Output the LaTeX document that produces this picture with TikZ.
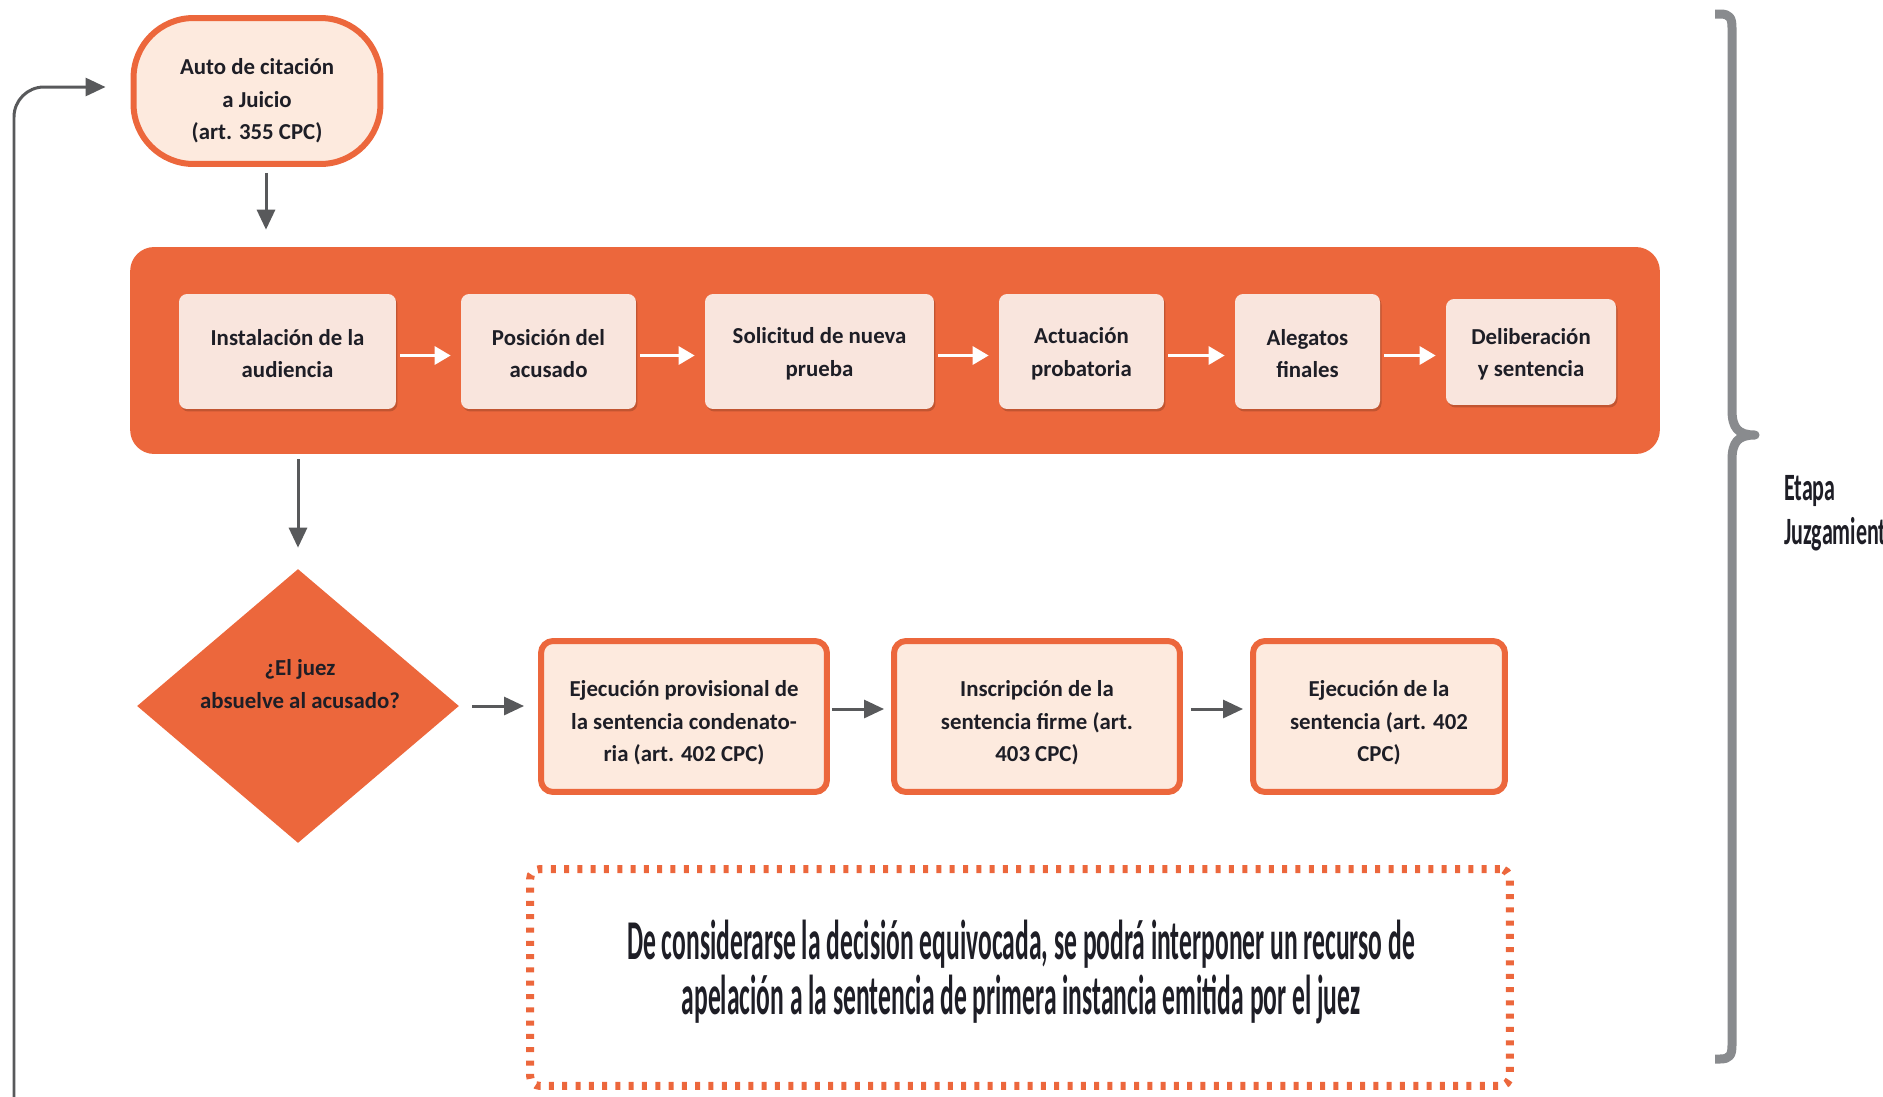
\documentclass[tikz,border=0pt]{standalone}
\usepackage{fontspec}
\setmainfont{Carlito}
\newfontfamily\condfont[FakeStretch=0.455]{Carlito}
\newfontfamily\labelfont[FakeStretch=0.57]{Carlito}
\usetikzlibrary{arrows.meta,shapes.geometric,shadows,calc}
\newcommand\liftline[1]{\rule{0pt}{#1}}
\definecolor{orng}{RGB}{236,103,60}
\definecolor{innerfill}{RGB}{249,229,221}
\definecolor{boxfill}{RGB}{253,234,222}
\definecolor{linegray}{RGB}{88,89,91}
\definecolor{bracegray}{RGB}{137,139,142}
\definecolor{txt}{RGB}{30,30,38}
\tikzset{
  lbl/.style={font=\bfseries\fontsize{13}{18.5}\selectfont, align=center, text=txt},
  autobox/.style={lbl, draw=orng, line width=0.12cm, fill=boxfill, rounded corners=1.2cm,
     minimum width=4.94cm, minimum height=2.92cm, inner sep=0pt},
  banner/.style={fill=orng, rounded corners=0.48cm, minimum width=30.6cm, minimum height=4.14cm, inner sep=0pt},
  stepbox/.style={lbl, fill=innerfill, rounded corners=0.16cm, minimum height=2.3cm, inner sep=0pt,
     drop shadow={opacity=0.35, shadow xshift=0.03cm, shadow yshift=-0.05cm, fill=black!50!orng}},
  outbox/.style={lbl, draw=orng, line width=0.12cm, fill=boxfill, rounded corners=0.24cm,
     minimum height=3.02cm, inner sep=0pt},
  decision/.style={diamond, fill=orng, minimum width=6.44cm, minimum height=5.48cm, inner sep=0pt},
  grayarrow/.style={draw=linegray, line width=0.06cm, -{Triangle[length=0.4cm,width=0.36cm]}},
  whitearrow/.style={draw=white, line width=0.06cm, -{Triangle[length=0.32cm,width=0.36cm]}},
  notebox/.style={draw=orng, line width=0.16cm, dash pattern=on 0.1cm off 0.166cm,
     rounded corners=0.2cm, minimum width=19.6cm, minimum height=4.34cm, inner sep=0pt},
}
\begin{document}
\begin{tikzpicture}[x=0.02cm, y=-0.02cm]
\useasboundingbox (0,0) rectangle (1883,1096);
\begin{scope}
\clip (0,0) rectangle (1883,1096);

% top terminal
\node[autobox] (auto) at (257,91) {\liftline{20.3pt}Auto de citación\\a Juicio\\(art. 355 CPC)};

% banner with steps
\node[banner] (banner) at (895,350.5) {};
\node[stepbox, minimum width=4.34cm] (b1) at (287.5,351.5) {\liftline{11.6pt}Instalación de la\\audiencia};
\node[stepbox, minimum width=3.5cm]  (b2) at (548.5,351.5) {\liftline{11.6pt}Posición del\\acusado};
\node[stepbox, minimum width=4.58cm] (b3) at (819.5,351.5) {\liftline{11.6pt}Solicitud de nueva\\prueba};
\node[stepbox, minimum width=3.3cm]  (b4) at (1081.5,351.5) {\liftline{11.6pt}Actuación\\probatoria};
\node[stepbox, minimum width=2.9cm]  (b5) at (1307.5,351.5) {\liftline{11.6pt}Alegatos\\finales};
\node[stepbox, minimum width=3.4cm, minimum height=2.12cm] (b6) at (1531,352) {\liftline{11.6pt}Deliberación\\y sentencia};

\foreach \a/\b in {b1/b2,b2/b3,b3/b4,b4/b5,b5/b6}
  \draw[whitearrow, shorten <=0.08cm, shorten >=0.2cm] ([yshift=-0.08cm]\a.east) -- ([yshift=-0.08cm]\a.east -| \b.west);

% decision
\node[decision] (dec) at (298,706) {};
\node[lbl] (dectext) at (300,684) {¿El juez\\absuelve al acusado?};

% outcome boxes
\node[outbox, minimum width=5.72cm] (c1) at (684,716.5) {\liftline{16.3pt}Ejecución provisional de\\la sentencia condenato-\\ria (art. 402 CPC)};
\node[outbox, minimum width=5.72cm] (c2) at (1037,716.5) {\liftline{16.3pt}Inscripción de la\\sentencia firme (art.\\403 CPC)};
\node[outbox, minimum width=5.04cm] (c3) at (1379,716.5) {\liftline{16.3pt}Ejecución de la\\sentencia (art. 402\\CPC)};

% note
\node[notebox] (note) at (1020,977.5) {};
\node[text=txt, align=center, font=\condfont\bfseries\fontsize{32}{31}\selectfont] (notetext) at (1021,972)
  {De considerarse la decisión equivocada, se podrá interponer un recurso de\\apelación a la sentencia de primera instancia emitida por el juez};

% connectors
\draw[grayarrow, shorten <=0.12cm, shorten >=0.34cm] ([xshift=0.18cm]auto.south) -- ([xshift=0.18cm]auto.south |- banner.north);
\draw[grayarrow, shorten <=0.1cm, shorten >=0.42cm] (banner.south -| dec.north) -- (dec.north);
\draw[grayarrow, shorten <=0.26cm, shorten >=0.28cm] (dec.east) -- (dec.east -| c1.west);
\draw[grayarrow, shorten <=0.04cm, shorten >=0.14cm] (c1.east |- 0,709) -- (c2.west |- 0,709);
\draw[grayarrow, shorten <=0.16cm, shorten >=0.14cm] (c2.east |- 0,709) -- (c3.west |- 0,709);

% loop back
\coordinate (loopend) at (14,1100);
\draw[grayarrow, rounded corners=0.6cm, shorten >=0.5cm] (loopend) |- (auto.west |- 0,87);

% brace
\draw[bracegray, line width=0.18cm, line join=round]
  (1715,14) -- (1720,14) .. controls (1730,14) and (1732,18) .. (1732,28)
  -- (1732,410) .. controls (1732,428) and (1738,435) .. (1755,435)
  .. controls (1738,435) and (1732,442) .. (1732,460)
  -- (1732,1045) .. controls (1732,1055) and (1730,1059) .. (1720,1059) -- (1715,1059);
\node[anchor=west, text=txt, align=left, font=\labelfont\bfseries\fontsize{22}{25}\selectfont] (etapa) at (1778,513)
  {Etapa\\Juzgamiento};
\end{scope}
\end{tikzpicture}
\end{document}
